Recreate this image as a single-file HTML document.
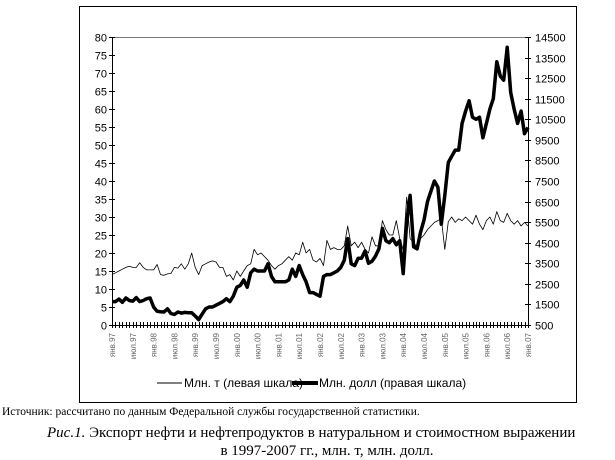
<!DOCTYPE html>
<html><head><meta charset="utf-8"><style>
body{margin:0;background:#fff;}
svg{display:block;}
</style></head><body>
<svg id="chart" width="615" height="460" viewBox="0 0 615 460" font-family="Liberation Sans, sans-serif">
<rect x="79.5" y="6.5" width="497" height="396" fill="none" stroke="#000" stroke-width="1"/>
<g id="axes"></g>
<g id="series"></g>
<g>
<line x1="157" y1="383" x2="182" y2="383" stroke="#000" stroke-width="1"/>
<text x="184" y="387" font-size="12">Млн. т (левая шкала)</text>
<line x1="292" y1="383" x2="318" y2="383" stroke="#000" stroke-width="4"/>
<text x="319" y="387" font-size="12">Млн. долл (правая шкала)</text>
</g>
<text x="2" y="415" font-family="Liberation Serif, serif" font-size="11.5">Источник: рассчитано по данным Федеральной службы государственной статистики.</text>
<text x="47" y="437" font-family="Liberation Serif, serif" font-size="15"><tspan font-style="italic">Рис.1.</tspan> Экспорт нефти и нефтепродуктов в натуральном и стоимостном выражении</text>
<text x="327" y="455" text-anchor="middle" font-family="Liberation Serif, serif" font-size="15">в 1997-2007 гг., млн. т, млн. долл.</text>
</svg>
<script>
const xLabels = ["янв.97","июл.97","янв.98","июл.98","янв.99","июл.99","янв.00","июл.00","янв.01","июл.01","янв.02","июл.02","янв.03","июл.03","янв.04","июл.04","янв.05","июл.05","янв.06","июл.06","янв.07"];
const leftTicks = [0,5,10,15,20,25,30,35,40,45,50,55,60,65,70,75,80];
const rightTicks = [500,1500,2500,3500,4500,5500,6500,7500,8500,9500,10500,11500,12500,13500,14500];
const tonnes = [14,14.5,15,15.5,16,16.3,16,16,17.3,16,15.3,15.3,
15.3,16.8,14,13.8,14.2,14.3,16,15.8,17,15.5,17,20,
16,14,16.5,17,17.5,17.8,17.5,16,16,13.5,14,12.5,
15,13.5,15,16.5,17,21,19.5,20,19,18,16.5,15.5,
16.5,17,18,19,18,20,19.5,23,20,21,18,17.5,
18.5,16.5,23.5,21,21.5,21,21,22,27.5,22,23,21.5,
23,21,20,24.5,22,22,29,26.5,25,25,29,24,
21,35.5,24,23,21.5,24,25,26.5,27.5,28.5,29,29.6,
21,28.7,30,28.5,29.5,29,30,29,28,30.5,28,26.5,
29,30,28,31.5,29,28.5,31,29,28,29,27.5,28.5,27.5];
const usd = [1638,1638,1760,1603,1813,1690,1655,1830,1638,1690,1778,1813,
1375,1165,1148,1130,1288,1060,1008,1130,1078,1113,1095,1095,
938,763,1025,1288,1375,1375,1463,1550,1638,1778,1638,1900,
2338,2425,2688,2338,3038,3213,3125,3125,3125,3475,2863,2600,
2600,2600,2600,2688,3213,2863,3388,2950,2600,2075,2075,1988,
1900,2863,2950,2950,3038,3125,3300,3650,4700,3475,3388,3738,
3750,4100,3500,3600,3850,4200,5200,4600,4500,4700,4400,4600,
3000,5500,6800,4300,4200,5000,5600,6500,7000,7500,7200,5400,
6800,8400,8700,9000,9000,10300,10900,11400,10600,10500,10600,9600,
10300,11000,11500,13300,12600,12400,14000,11800,11000,10300,10900,9800,10100];

const NS="http://www.w3.org/2000/svg";
const X0=112,X1=528,YT=37,YB=325;
const n=usd.length;
const xS=i=>X0+(X1-X0)*i/(n-1);
const yL=v=>YB-(YB-YT)*(v-0)/80;
const yR=v=>YB-(YB-YT)*(v-500)/14000;
function mk(tag,attrs,parent){const e=document.createElementNS(NS,tag);for(const k in attrs)e.setAttribute(k,attrs[k]);parent.appendChild(e);return e;}
const ax=document.getElementById('axes');
let t=mk('line',{x1:X0,y1:YT+0.5,x2:X1,y2:YT+0.5,stroke:'#777','stroke-width':1},ax);


t=mk('line',{x1:X0+0.5,y1:YT,x2:X0+0.5,y2:YB,stroke:'#000','stroke-width':1},ax);


t=mk('line',{x1:X1+0.5,y1:YT,x2:X1+0.5,y2:YB,stroke:'#000','stroke-width':1},ax);


t=mk('line',{x1:X0,y1:YB+0.5,x2:X1,y2:YB+0.5,stroke:'#000','stroke-width':1},ax);


leftTicks.forEach(v=>{const y=Math.round(yL(v))+0.5;
 mk('line',{x1:X0-3,y1:y,x2:X0+3,y2:y,stroke:'#000'},ax);
 const tx=mk('text',{x:X0-5,y:y+4,'text-anchor':'end','font-size':11},ax);tx.textContent=v;
 
 });
rightTicks.forEach(v=>{const y=Math.round(yR(v))+0.5;
 mk('line',{x1:X1-3,y1:y,x2:X1+3,y2:y,stroke:'#000'},ax);
 const tx=mk('text',{x:X1+7,y:y+4,'font-size':11},ax);tx.textContent=v;
 
 });
for(let i=0;i<n;i++){const x=Math.round(xS(i))+0.5;mk('line',{x1:x,y1:YB-3,x2:x,y2:YB+3,stroke:'#000'},ax);}
xLabels.forEach((s,k)=>{const x=xS(k*6)+3;
 const tx=mk('text',{x:x,y:333,'text-anchor':'end','font-size':8,fill:'#666',transform:`rotate(-90 ${x} 333)`},ax);tx.textContent=s;
 
 });
const sg=document.getElementById('series');
const p1=mk('polyline',{points:tonnes.map((v,i)=>xS(i).toFixed(1)+','+yL(v).toFixed(1)).join(' '),fill:'none',stroke:'#000','stroke-width':0.8,'stroke-linejoin':'round'},sg);


const p2=mk('polyline',{points:usd.map((v,i)=>xS(i).toFixed(1)+','+yR(v).toFixed(1)).join(' '),fill:'none',stroke:'#000','stroke-width':3.5,'stroke-linejoin':'round'},sg);


</script>
</body></html>
